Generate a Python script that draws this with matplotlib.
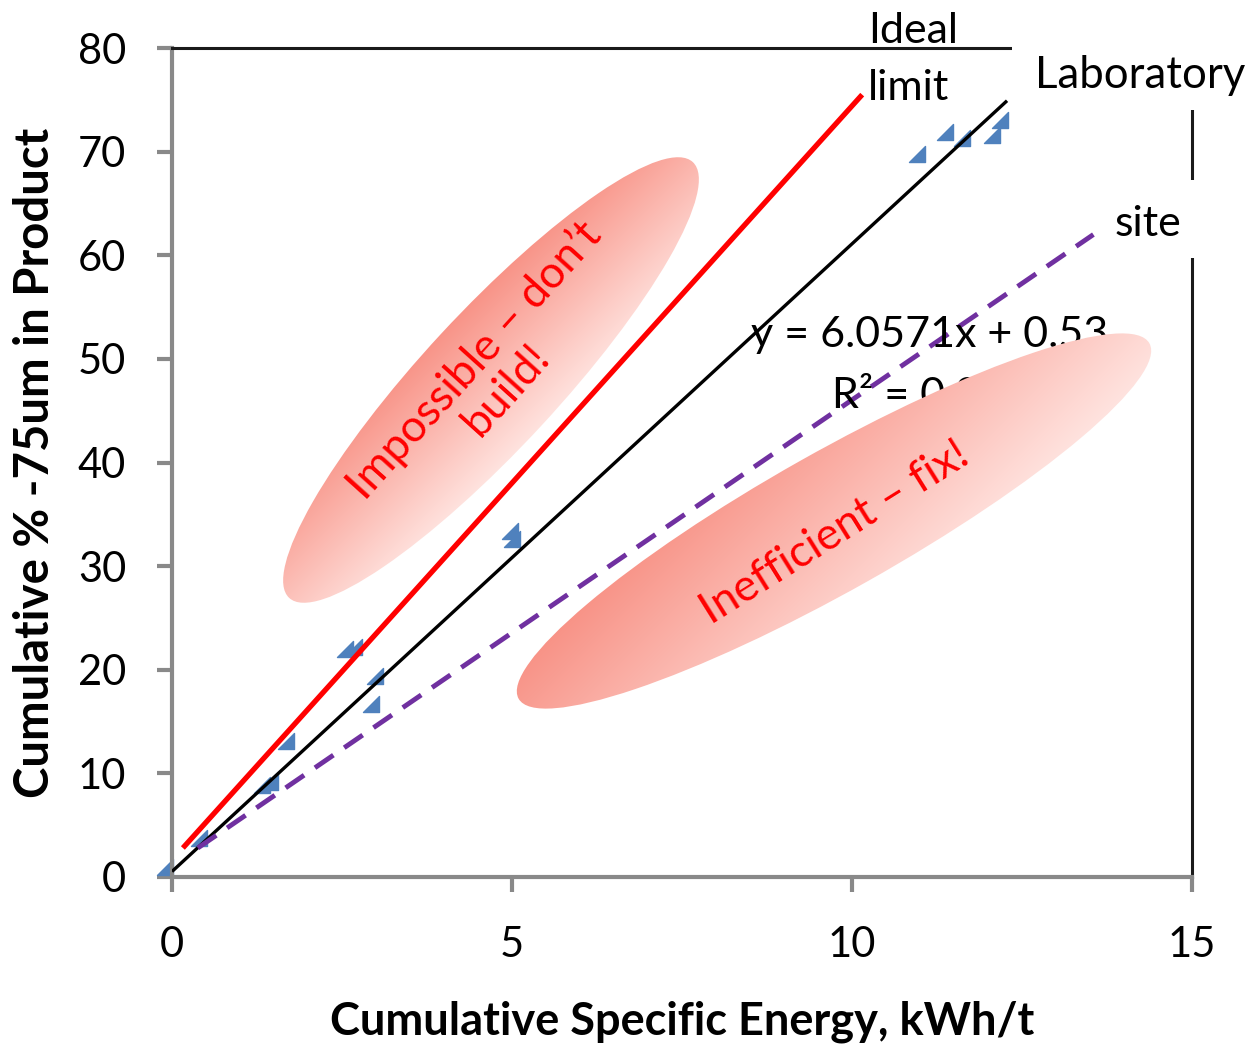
import numpy as np
import matplotlib
matplotlib.use("Agg")
import matplotlib.pyplot as plt
import matplotlib.colors as mcolors
from matplotlib.patches import Ellipse, Rectangle
from matplotlib.path import Path

plt.rcParams["font.family"] = ["Lato", "DejaVu Sans"]

#Datos: energia especifica acumulada (kWh/t) y % -75um acumulado
energiaPuntos = [-0.1, 0.4, 1.32, 1.44, 1.67, 2.55, 2.68, 2.92, 2.98, 4.97, 5.0,
                 10.96, 11.37, 11.62, 12.06, 12.18]
finosPuntos = [1.0, 3.8, 8.9, 9.2, 13.1, 22.0, 22.2, 16.65, 19.35, 33.4, 32.6,
               69.8, 71.9, 71.3, 71.6, 73.05]

#Linea de tendencia del laboratorio (es la ecuacion que aparece en el grafico)
pendienteLab = 6.0571
interceptoLab = 0.53
rangoLab = [0.0, 12.28]

#Limite ideal (linea roja)
idealX = [0.16, 10.15]
idealY = [2.8, 75.5]

#Linea del sitio (violeta punteada)
sitioX = [0.38, 13.55]
sitioY = [2.8, 62.0]

ticksX = [0, 5, 10, 15]
ticksY = [0, 10, 20, 30, 40, 50, 60, 70, 80]

ANCHO, ALTO = 1251, 1051
gris = "#898989"
salmonOscuro = "#F89387"
salmonClaro = "#FFE3DF"


def elipseDegradada(ax, centro, largo, grosor, angulo, oscuro, claro):
    """Elipse con degradado: oscuro arriba a la izquierda, claro abajo a la derecha"""
    cx, cy = centro
    elipse = Ellipse(centro, largo, grosor, angle=-angulo, facecolor="none", edgecolor="none")
    ax.add_patch(elipse)
    r = largo / 2
    xs = np.linspace(cx - r, cx + r, 500)
    ys = np.linspace(cy - r, cy + r, 500)
    X, Y = np.meshgrid(xs, ys)
    n = np.array([1.0, 1.0]) / np.sqrt(2)
    phi = np.radians(angulo)
    u = np.array([np.cos(phi), -np.sin(phi)])
    v = np.array([np.sin(phi), np.cos(phi)])
    mitad = np.hypot(r * (u @ n), grosor / 2 * (v @ n))
    t = ((X - cx) * n[0] + (Y - cy) * n[1]) / mitad
    t = np.clip((t + 1) / 2, 0, 1)
    c0 = np.array(mcolors.to_rgb(oscuro))
    c1 = np.array(mcolors.to_rgb(claro))
    rgb = c0[None, None, :] * (1 - t[..., None]) + c1[None, None, :] * t[..., None]
    img = ax.imshow(rgb, extent=(cx - r, cx + r, cy + r, cy - r), origin="upper",
                    aspect="auto", zorder=1, interpolation="bilinear")
    img.set_clip_path(elipse)


fig = plt.figure(figsize=(ANCHO / 100, ALTO / 100), dpi=100)
ax = fig.add_axes([172 / ANCHO, 1 - 877 / ALTO, 1020 / ANCHO, 829 / ALTO])
ax.set_xlim(0, 15)
ax.set_ylim(0, 80)
ax.set_xticks(ticksX)
ax.set_yticks(ticksY)

#Primero los puntos, las lineas van por encima
marcador = Path([(-1, -1), (1, -1), (1, 1), (-1, -1)],
                [Path.MOVETO, Path.LINETO, Path.LINETO, Path.CLOSEPOLY])
ax.plot(energiaPuntos, finosPuntos, linestyle="none", marker=marcador, markersize=12,
        color="#4F81BD", clip_on=False, zorder=2)

ax.plot(idealX, idealY, color="#FF0000", lw=3.8, solid_capstyle="butt", zorder=3)
ax.plot(rangoLab, [pendienteLab * x + interceptoLab for x in rangoLab], color="black",
        lw=2.4, solid_capstyle="butt", zorder=3)
ax.plot(sitioX, sitioY, color="#7030A0", lw=3.5, dashes=(4.6, 2.7),
        dash_capstyle="butt", zorder=3)

for s in ["left", "bottom"]:
    ax.spines[s].set_color(gris)
    ax.spines[s].set_linewidth(3)
for s in ["top", "right"]:
    ax.spines[s].set_color("#1a1a1a")
    ax.spines[s].set_linewidth(2.2)

ax.tick_params(axis="both", direction="out", length=11, width=3, color=gris,
               labelsize=30, labelcolor="black")
ax.tick_params(axis="y", pad=22)
ax.tick_params(axis="x", pad=24)

ax.set_xlabel("Cumulative Specific Energy, kWh/t", fontsize=32.5, fontweight="bold", va="center")
ax.xaxis.set_label_coords(0.5, (877 - 1022) / 829)
ax.set_ylabel("Cumulative % -75um in Product", fontsize=34, fontweight="bold", va="center")
ax.yaxis.set_label_coords((35 - 172) / 1020, 0.5)

#Capa encima en pixeles para las elipses y los textos sueltos
ov = fig.add_axes([0, 0, 1, 1], zorder=3)
ov.patch.set_alpha(0)

#La ecuacion va debajo de la elipse (la tapa en parte)
ov.text(930, 347, "y = 6.0571x + 0.53", fontsize=31, ha="center", va="baseline", zorder=0.5)
ov.text(832, 408, "R² = 0.9", fontsize=31, ha="left", va="baseline", zorder=0.5)

elipseDegradada(ov, (491, 380), 594, 136, 47.2, salmonOscuro, salmonClaro)
elipseDegradada(ov, (834, 521), 724, 138, 29.4, salmonOscuro, salmonClaro)

ov.text(490, 375, "Impossible – don’t\nbuild!", fontsize=32, color="#FF0000", rotation=48,
        ha="center", va="center", multialignment="center", linespacing=1.05,
        rotation_mode="anchor", zorder=3)
ov.text(835, 533, "Inefficient – fix!", fontsize=32, color="#FF0000", rotation=32,
        ha="center", va="center", rotation_mode="anchor", zorder=3)

#Cajas blancas que tapan el borde del area (como en el original)
ov.add_patch(Rectangle((1012, 40), 260, 70, facecolor="white", edgecolor="none", zorder=2))
ov.add_patch(Rectangle((1097, 180), 170, 78, facecolor="white", edgecolor="none", zorder=2))

ov.text(868, 43, "Ideal", fontsize=31, ha="left", va="baseline", zorder=3)
ov.text(868, 100, "limit", fontsize=31, ha="left", va="baseline", zorder=3)
ov.text(1035, 88, "Laboratory", fontsize=31.5, ha="left", va="baseline", zorder=3)
ov.text(1115, 236, "site", fontsize=31, ha="left", va="baseline", zorder=3)

ov.set_xlim(0, ANCHO)
ov.set_ylim(ALTO, 0)
ov.axis("off")

fig.savefig("out.png", dpi=100)
